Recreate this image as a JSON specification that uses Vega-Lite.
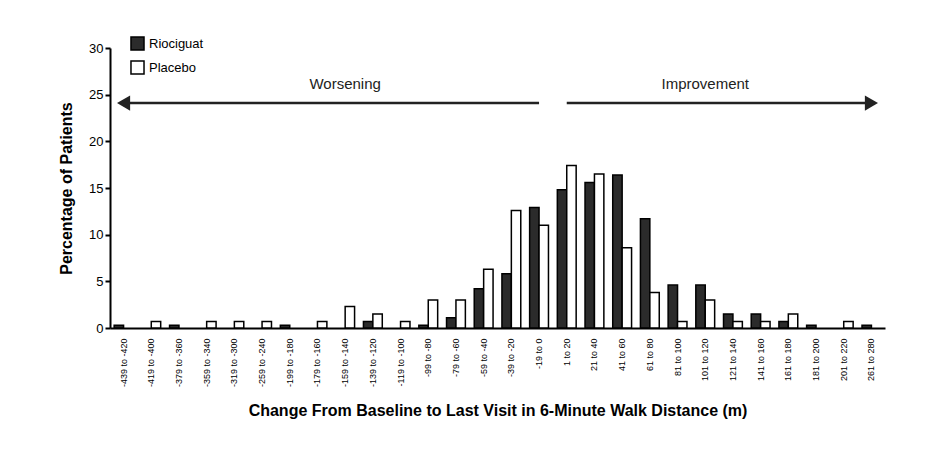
{
  "$schema": "https://vega.github.io/schema/vega-lite/v6.json",
  "autosize": "none",
  "width": 775,
  "height": 280,
  "padding": {"left": 110, "top": 48, "right": 60, "bottom": 126},
  "background": "white",
  "config": {"view": {"stroke": null}, "font": "Liberation Sans"},
  "datasets": {
    "bars": [
      {"bin": "-439 to -420", "group": "Riociguat", "pct": 0.3},
      {"bin": "-439 to -420", "group": "Placebo", "pct": 0},
      {"bin": "-419 to -400", "group": "Riociguat", "pct": 0},
      {"bin": "-419 to -400", "group": "Placebo", "pct": 0.7},
      {"bin": "-379 to -360", "group": "Riociguat", "pct": 0.3},
      {"bin": "-379 to -360", "group": "Placebo", "pct": 0},
      {"bin": "-359 to -340", "group": "Riociguat", "pct": 0},
      {"bin": "-359 to -340", "group": "Placebo", "pct": 0.7},
      {"bin": "-319 to -300", "group": "Riociguat", "pct": 0},
      {"bin": "-319 to -300", "group": "Placebo", "pct": 0.7},
      {"bin": "-259 to -240", "group": "Riociguat", "pct": 0},
      {"bin": "-259 to -240", "group": "Placebo", "pct": 0.7},
      {"bin": "-199 to -180", "group": "Riociguat", "pct": 0.3},
      {"bin": "-199 to -180", "group": "Placebo", "pct": 0},
      {"bin": "-179 to -160", "group": "Riociguat", "pct": 0},
      {"bin": "-179 to -160", "group": "Placebo", "pct": 0.7},
      {"bin": "-159 to -140", "group": "Riociguat", "pct": 0},
      {"bin": "-159 to -140", "group": "Placebo", "pct": 2.3},
      {"bin": "-139 to -120", "group": "Riociguat", "pct": 0.7},
      {"bin": "-139 to -120", "group": "Placebo", "pct": 1.5},
      {"bin": "-119 to -100", "group": "Riociguat", "pct": 0},
      {"bin": "-119 to -100", "group": "Placebo", "pct": 0.7},
      {"bin": "-99 to -80", "group": "Riociguat", "pct": 0.3},
      {"bin": "-99 to -80", "group": "Placebo", "pct": 3.0},
      {"bin": "-79 to -60", "group": "Riociguat", "pct": 1.1},
      {"bin": "-79 to -60", "group": "Placebo", "pct": 3.0},
      {"bin": "-59 to -40", "group": "Riociguat", "pct": 4.2},
      {"bin": "-59 to -40", "group": "Placebo", "pct": 6.3},
      {"bin": "-39 to -20", "group": "Riociguat", "pct": 5.8},
      {"bin": "-39 to -20", "group": "Placebo", "pct": 12.6},
      {"bin": "-19 to 0", "group": "Riociguat", "pct": 12.9},
      {"bin": "-19 to 0", "group": "Placebo", "pct": 11.0},
      {"bin": "1 to 20", "group": "Riociguat", "pct": 14.8},
      {"bin": "1 to 20", "group": "Placebo", "pct": 17.4},
      {"bin": "21 to 40", "group": "Riociguat", "pct": 15.6},
      {"bin": "21 to 40", "group": "Placebo", "pct": 16.5},
      {"bin": "41 to 60", "group": "Riociguat", "pct": 16.4},
      {"bin": "41 to 60", "group": "Placebo", "pct": 8.6},
      {"bin": "61 to 80", "group": "Riociguat", "pct": 11.7},
      {"bin": "61 to 80", "group": "Placebo", "pct": 3.8},
      {"bin": "81 to 100", "group": "Riociguat", "pct": 4.6},
      {"bin": "81 to 100", "group": "Placebo", "pct": 0.7},
      {"bin": "101 to 120", "group": "Riociguat", "pct": 4.6},
      {"bin": "101 to 120", "group": "Placebo", "pct": 3.0},
      {"bin": "121 to 140", "group": "Riociguat", "pct": 1.5},
      {"bin": "121 to 140", "group": "Placebo", "pct": 0.7},
      {"bin": "141 to 160", "group": "Riociguat", "pct": 1.5},
      {"bin": "141 to 160", "group": "Placebo", "pct": 0.7},
      {"bin": "161 to 180", "group": "Riociguat", "pct": 0.7},
      {"bin": "161 to 180", "group": "Placebo", "pct": 1.5},
      {"bin": "181 to 200", "group": "Riociguat", "pct": 0.3},
      {"bin": "181 to 200", "group": "Placebo", "pct": 0},
      {"bin": "201 to 220", "group": "Riociguat", "pct": 0},
      {"bin": "201 to 220", "group": "Placebo", "pct": 0.7},
      {"bin": "261 to 280", "group": "Riociguat", "pct": 0.3},
      {"bin": "261 to 280", "group": "Placebo", "pct": 0}
    ],
    "arrows": [
      {"from": "-439 to -420", "to": "-19 to 0", "label": "Worsening", "mid": "-159 to -140", "head": "-439 to -420", "shape": "triangle-left"},
      {"from": "1 to 20", "to": "261 to 280", "label": "Improvement", "mid": "101 to 120", "head": "261 to 280", "shape": "triangle-right"}
    ]
  },
  "encoding": {
    "x": {
      "type": "nominal",
      "scale": {
        "domain": ["-439 to -420", "-419 to -400", "-379 to -360", "-359 to -340", "-319 to -300", "-259 to -240", "-199 to -180", "-179 to -160", "-159 to -140", "-139 to -120", "-119 to -100", "-99 to -80", "-79 to -60", "-59 to -40", "-39 to -20", "-19 to 0", "1 to 20", "21 to 40", "41 to 60", "61 to 80", "81 to 100", "101 to 120", "121 to 140", "141 to 160", "161 to 180", "181 to 200", "201 to 220", "261 to 280"],
        "paddingInner": 0.32,
        "paddingOuter": 0.15
      }
    }
  },
  "layer": [
    {
      "data": {"name": "bars"},
      "transform": [{"filter": "datum.pct > 0"}],
      "mark": {"type": "bar", "stroke": "black", "strokeWidth": 1.5},
      "encoding": {
        "x": {
          "field": "bin",
          "type": "nominal",
          "axis": {
            "title": "Change From Baseline to Last Visit in 6-Minute Walk Distance (m)",
            "titleFontSize": 16,
            "titleFontWeight": "bold",
            "titlePadding": 16,
            "labelAngle": -90,
            "labelFontSize": 9,
            "labelColor": "black",
            "domainColor": "black",
            "domainWidth": 2,
            "ticks": false,
            "labelPadding": 10
          }
        },
        "xOffset": {"field": "group", "type": "nominal", "sort": ["Riociguat", "Placebo"], "scale": {"domain": ["Riociguat", "Placebo"]}},
        "y": {
          "field": "pct",
          "type": "quantitative",
          "scale": {"domain": [0, 30], "nice": false},
          "axis": {
            "title": "Percentage of Patients",
            "titleFontSize": 16,
            "titleFontWeight": "bold",
            "titleColor": "black",
            "titlePadding": 14,
            "values": [0, 5, 10, 15, 20, 25, 30],
            "grid": false,
            "labelFontSize": 13,
            "labelColor": "black",
            "domainColor": "black",
            "domainWidth": 2,
            "tickColor": "black",
            "tickWidth": 2
          }
        },
        "fill": {
          "field": "group",
          "type": "nominal",
          "scale": {"domain": ["Riociguat", "Placebo"], "range": ["#2b2b2b", "white"]},
          "legend": {
            "title": null,
            "orient": "none",
            "legendX": 20,
            "legendY": -12,
            "symbolType": "square",
            "symbolSize": 170,
            "symbolStrokeColor": "black",
            "symbolStrokeWidth": 1.5,
            "labelFontSize": 13,
            "labelColor": "black",
            "rowPadding": 3
          }
        }
      }
    },
    {
      "data": {"name": "arrows"},
      "mark": {"type": "rule", "strokeWidth": 2.5, "color": "#222"},
      "encoding": {
        "x": {"field": "from", "type": "nominal"},
        "x2": {"field": "to"},
        "y": {"datum": 24.1, "type": "quantitative"}
      }
    },
    {
      "data": {"name": "arrows"},
      "mark": {"type": "point", "filled": true, "size": 230, "color": "#222", "opacity": 1},
      "encoding": {
        "x": {"field": "head", "type": "nominal"},
        "y": {"datum": 24.1, "type": "quantitative"},
        "shape": {"field": "shape", "type": "nominal", "scale": null}
      }
    },
    {
      "data": {"name": "arrows"},
      "mark": {"type": "text", "fontSize": 15, "color": "#222", "baseline": "bottom"},
      "encoding": {
        "x": {"field": "mid", "type": "nominal"},
        "y": {"datum": 25.3, "type": "quantitative"},
        "text": {"field": "label"}
      }
    }
  ]
}
